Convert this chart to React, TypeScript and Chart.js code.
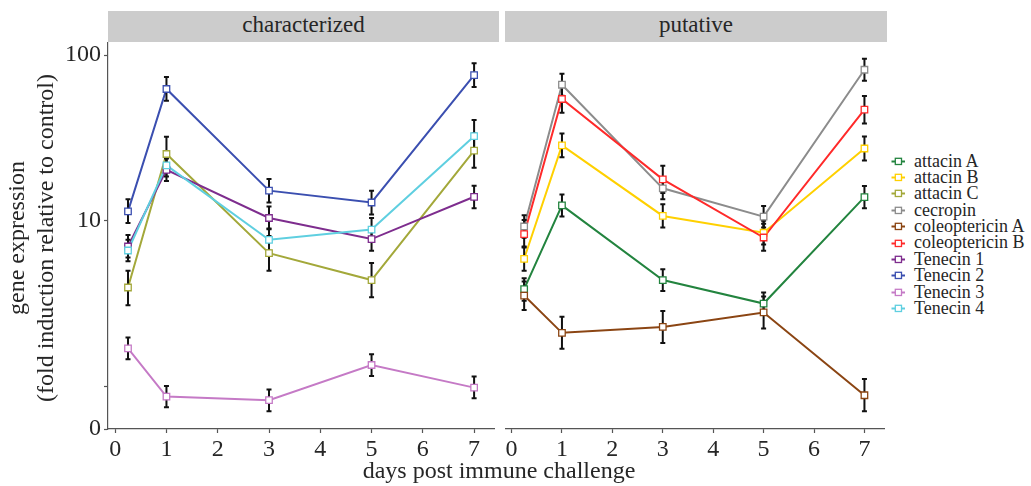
import React, { useEffect, useRef } from "react";
import { Chart, registerables } from "chart.js";

Chart.register(...registerables);

// ---------------- data ----------------
const DAYS = [0.25, 1, 3, 5, 7];
const X_TICKS = [0, 1, 2, 3, 4, 5, 6, 7];
const Y_MIN = 0.555;
const Y_MAX = 119;
const Y_TICK_VALUES = [Y_MIN, 1, 10, 100];
const Y_TICK_LABELS = ["0", "", "10", "100"];

const PANEL_TITLES = ["characterized", "putative"];
const X_TITLE = "days post immune challenge";
const Y_TITLE = ["gene expression", "(fold induction relative to control)"];

const SERIES_NAMES = [
  "attacin A",
  "attacin B",
  "attacin C",
  "cecropin",
  "coleoptericin A",
  "coleoptericin B",
  "Tenecin 1",
  "Tenecin 2",
  "Tenecin 3",
  "Tenecin 4",
];
const SERIES_COLORS = [
  "#23843F",
  "#FFD000",
  "#A3A83A",
  "#8C8C8C",
  "#8B4513",
  "#FF2A2A",
  "#7E2D8E",
  "#3B4FB0",
  "#C57AC6",
  "#5FCFE0",
];

// characterized panel
const attacinC = [3.96, 25.3, 6.38, 4.39, 26.5];
const attacinCLo = [3.1, 19.9, 5.0, 3.46, 20.9];
const attacinCHi = [5.0, 32.1, 8.1, 5.57, 33.6];
const tenecin1 = [7.0, 20.3, 10.4, 7.76, 13.96];
const tenecin1Lo = [6.0, 17.4, 8.9, 6.6, 11.9];
const tenecin1Hi = [8.2, 23.8, 12.2, 9.1, 16.3];
const tenecin2 = [11.4, 62.4, 15.2, 12.9, 75.7];
const tenecin2Lo = [9.7, 52.9, 12.9, 10.9, 64.2];
const tenecin2Hi = [13.5, 73.6, 17.9, 15.2, 89.3];
const tenecin3 = [1.7, 0.871, 0.828, 1.35, 0.986];
const tenecin3Lo = [1.46, 0.75, 0.71, 1.16, 0.85];
const tenecin3Hi = [1.98, 1.01, 0.96, 1.57, 1.15];
const tenecin4 = [6.62, 21.6, 7.68, 8.86, 32.4];
const tenecin4Lo = [5.7, 18.5, 6.6, 7.6, 25.9];
const tenecin4Hi = [7.7, 25.3, 9.0, 10.4, 40.5];

// putative panel
const attacinA = [3.87, 12.4, 4.39, 3.17, 13.9];
const attacinALo = [3.3, 10.6, 3.77, 2.72, 11.9];
const attacinAHi = [4.5, 14.4, 5.1, 3.7, 16.2];
const attacinB = [5.9, 28.5, 10.7, 8.47, 27.3];
const attacinBLo = [5.0, 24.2, 9.1, 7.2, 23.1];
const attacinBHi = [7.0, 33.6, 12.6, 10.0, 32.2];
const cecropin = [9.24, 66.2, 15.7, 10.6, 81.5];
const cecropinLo = [7.9, 56.8, 13.5, 9.1, 70.0];
const cecropinHi = [10.8, 77.1, 18.3, 12.3, 95.0];
const coleoptericinA = [3.54, 2.11, 2.29, 2.8, 0.887];
const coleoptericinALo = [2.9, 1.69, 1.83, 2.24, 0.71];
const coleoptericinAHi = [4.3, 2.64, 2.86, 3.5, 1.11];
const coleoptericinB = [8.31, 54.3, 17.8, 7.93, 46.8];
const coleoptericinBLo = [6.9, 44.9, 14.7, 6.6, 38.7];
const coleoptericinBHi = [10.1, 65.7, 21.5, 9.6, 56.6];

type S = { name: string; values: number[]; lo: number[]; hi: number[] };

const LEFT_SERIES: S[] = [
  { name: "attacin C", values: attacinC, lo: attacinCLo, hi: attacinCHi },
  { name: "Tenecin 1", values: tenecin1, lo: tenecin1Lo, hi: tenecin1Hi },
  { name: "Tenecin 2", values: tenecin2, lo: tenecin2Lo, hi: tenecin2Hi },
  { name: "Tenecin 3", values: tenecin3, lo: tenecin3Lo, hi: tenecin3Hi },
  { name: "Tenecin 4", values: tenecin4, lo: tenecin4Lo, hi: tenecin4Hi },
];
const RIGHT_SERIES: S[] = [
  { name: "attacin A", values: attacinA, lo: attacinALo, hi: attacinAHi },
  { name: "attacin B", values: attacinB, lo: attacinBLo, hi: attacinBHi },
  { name: "cecropin", values: cecropin, lo: cecropinLo, hi: cecropinHi },
  { name: "coleoptericin A", values: coleoptericinA, lo: coleoptericinALo, hi: coleoptericinAHi },
  { name: "coleoptericin B", values: coleoptericinB, lo: coleoptericinBLo, hi: coleoptericinBHi },
];

// ---------------- styling ----------------
const FONT = '"Liberation Serif", "Times New Roman", serif';
const AXIS_COLOR = "#555555";
const TEXT_COLOR = "#262626";

const colorOf = (name: string) => SERIES_COLORS[SERIES_NAMES.indexOf(name)];

const errorBarPlugin = {
  id: "errorBars",
  beforeDatasetsDraw(chart: any) {
    chart.$errDrawn = false;
  },
  beforeDatasetDraw(chart: any, args: any) {
    const ds: any = chart.data.datasets[args.index];
    if (!ds.isPoints || chart.$errDrawn) return;
    chart.$errDrawn = true;
    const ctx = chart.ctx;
    const xs = chart.scales.x;
    const ys = chart.scales.y;
    ctx.save();
    ctx.strokeStyle = "#111111";
    ctx.lineWidth = 2;
    chart.data.datasets.forEach((d: any) => {
      if (!d.isPoints) return;
      d.data.forEach((p: any, i: number) => {
        const x = xs.getPixelForValue(p.x);
        const yl = ys.getPixelForValue(d.lo[i]);
        const yh = ys.getPixelForValue(d.hi[i]);
        ctx.beginPath();
        ctx.moveTo(x, yl);
        ctx.lineTo(x, yh);
        ctx.moveTo(x - 2.5, yl);
        ctx.lineTo(x + 2.5, yl);
        ctx.moveTo(x - 2.5, yh);
        ctx.lineTo(x + 2.5, yh);
        ctx.stroke();
      });
    });
    ctx.restore();
  },
};

function buildDatasets(series: S[]) {
  const lines = series.map((s) => {
    const idx = SERIES_NAMES.indexOf(s.name);
    return {
      label: s.name,
      data: DAYS.map((d, i) => ({ x: d, y: s.values[i] })),
      borderColor: colorOf(s.name),
      borderWidth: 2,
      pointRadius: 0,
      fill: false,
      tension: 0,
      order: 1000 - idx,
      isPoints: false,
    };
  });
  const pts = series.map((s) => {
    const idx = SERIES_NAMES.indexOf(s.name);
    return {
      label: s.name + " pts",
      data: DAYS.map((d, i) => ({ x: d, y: s.values[i] })),
      showLine: false,
      pointStyle: "rect",
      pointRadius: 4.6,
      pointBorderWidth: 1.3,
      pointBackgroundColor: "#ffffff",
      pointBorderColor: colorOf(s.name),
      borderColor: colorOf(s.name),
      order: 100 - idx,
      isPoints: true,
      lo: s.lo,
      hi: s.hi,
    };
  });
  return [...lines, ...pts];
}

function makeOptions(isLeft: boolean): any {
  return {
    animation: false,
    responsive: false,
    maintainAspectRatio: false,
    events: [],
    layout: {
      padding: isLeft
        ? { top: 42.5, right: 1.7, left: 0, bottom: 0 }
        : { top: 42.5, right: 3.3, left: 6, bottom: 0 },
    },
    plugins: { legend: { display: false }, tooltip: { enabled: false } },
    scales: {
      x: {
        type: "linear",
        min: isLeft ? -0.14 : -0.11,
        max: 7.39,
        afterBuildTicks: (s: any) => {
          s.ticks = X_TICKS.map((v) => ({ value: v }));
        },
        afterFit: (s: any) => {
          s.height = 31;
        },
        grid: {
          drawOnChartArea: false,
          drawTicks: true,
          tickLength: 4,
          tickColor: AXIS_COLOR,
          tickWidth: 1.2,
        },
        border: { display: true, color: AXIS_COLOR, width: 1.2 },
        ticks: {
          font: { family: FONT, size: 24 },
          color: TEXT_COLOR,
          padding: 2,
          maxRotation: 0,
          autoSkip: false,
          callback: (v: any) => String(X_TICKS[X_TICKS.indexOf(v)]),
        },
      },
      y: {
        type: "logarithmic",
        display: isLeft,
        min: Y_MIN,
        max: Y_MAX,
        afterBuildTicks: (s: any) => {
          s.ticks = Y_TICK_VALUES.map((v) => ({ value: v }));
        },
        afterFit: (s: any) => {
          s.width = isLeft ? 108 : 0;
        },
        grid: {
          drawOnChartArea: false,
          drawTicks: true,
          tickLength: 4,
          tickColor: AXIS_COLOR,
          tickWidth: 1.2,
        },
        border: { display: true, color: AXIS_COLOR, width: 1.2 },
        ticks: {
          font: { family: FONT, size: 24 },
          color: TEXT_COLOR,
          padding: 3,
          autoSkip: false,
          callback: (_v: any, i: number) => Y_TICK_LABELS[i],
        },
      },
    },
  };
}

function Panel({ series, isLeft, left, width }: { series: S[]; isLeft: boolean; left: number; width: number }) {
  const ref = useRef<HTMLCanvasElement | null>(null);
  useEffect(() => {
    if (!ref.current) return;
    const chart = new Chart(ref.current, {
      type: "line",
      data: { datasets: buildDatasets(series) as any },
      options: makeOptions(isLeft),
      plugins: [errorBarPlugin as any],
    });
    return () => chart.destroy();
  }, []);
  return (
    <canvas
      ref={ref}
      width={width}
      height={460}
      style={{ position: "absolute", left, top: 0, width, height: 460 }}
    />
  );
}

export default function App() {
  useEffect(() => {
    document.body.style.margin = "0";
  }, []);
  const stripStyle: any = {
    position: "absolute",
    top: 11,
    height: 31,
    background: "#CCCCCC",
    color: TEXT_COLOR,
    fontFamily: FONT,
    fontSize: 23,
    lineHeight: "27px",
    textAlign: "center",
  };
  return (
    <div
      style={{
        position: "absolute",
        left: 0,
        top: 0,
        width: 1031,
        height: 486,
        background: "#ffffff",
        overflow: "hidden",
        fontFamily: FONT,
      }}
    >
      <div style={{ ...stripStyle, left: 108, width: 391 }}>{PANEL_TITLES[0]}</div>
      <div style={{ ...stripStyle, left: 505, width: 382 }}>{PANEL_TITLES[1]}</div>
      <Panel series={LEFT_SERIES} isLeft={true} left={0} width={500} />
      <Panel series={RIGHT_SERIES} isLeft={false} left={500} width={390} />
      <div
        style={{
          position: "absolute",
          left: 32.4 - 200,
          top: 238 - 30,
          width: 400,
          height: 60,
          transform: "rotate(-90deg)",
          transformOrigin: "50% 50%",
          textAlign: "center",
          fontSize: 24,
          lineHeight: "28.7px",
          color: TEXT_COLOR,
          whiteSpace: "nowrap",
        }}
      >
        <div>{Y_TITLE[0]}</div>
        <div>{Y_TITLE[1]}</div>
      </div>
      <div
        style={{
          position: "absolute",
          left: 299,
          top: 456,
          width: 400,
          textAlign: "center",
          fontSize: 24,
          lineHeight: "28px",
          color: TEXT_COLOR,
          whiteSpace: "nowrap",
        }}
      >
        {X_TITLE}
      </div>
      <div style={{ position: "absolute", left: 890, top: 160.7 - 8.2 }}>
        {SERIES_NAMES.map((n, i) => (
          <div
            key={n}
            style={{
              display: "flex",
              alignItems: "center",
              height: 16.4,
              fontSize: 18,
              lineHeight: "16.4px",
              color: TEXT_COLOR,
              whiteSpace: "nowrap",
            }}
          >
            <svg width={20} height={16} style={{ flex: "none", marginRight: 4 }}>
              <line x1={1.5} y1={8.5} x2={15} y2={8.5} stroke={SERIES_COLORS[i]} strokeWidth={2} />
              <rect x={5.3} y={5.3} width={6.2} height={6.2} fill="#fff" stroke={SERIES_COLORS[i]} strokeWidth={1.3} />
            </svg>
            <span>{n}</span>
          </div>
        ))}
      </div>
    </div>
  );
}
